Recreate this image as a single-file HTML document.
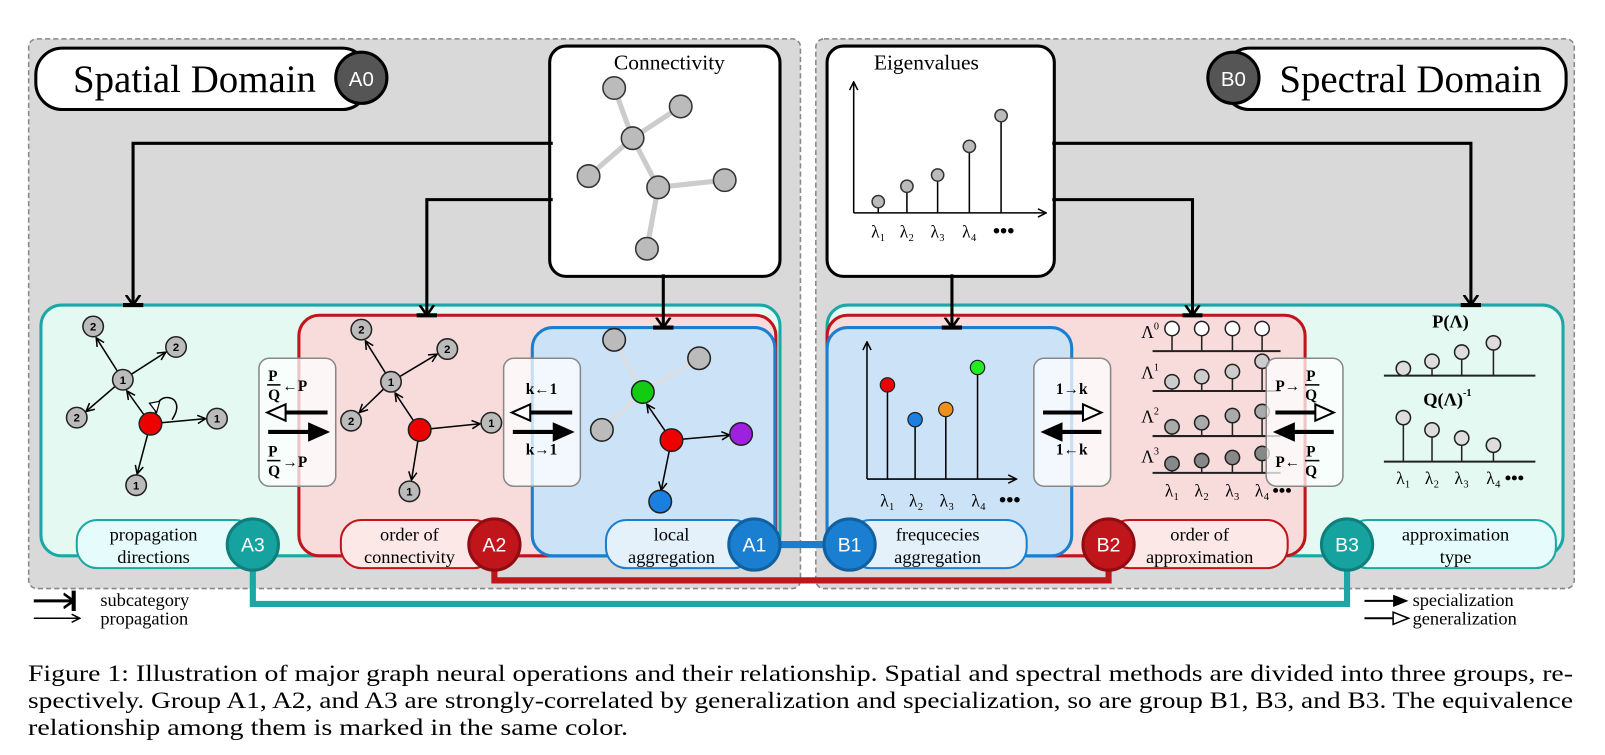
<!DOCTYPE html>
<html><head><meta charset="utf-8"><style>
html,body{margin:0;padding:0;background:#fff;}
svg{display:block;}
</style></head><body>
<svg width="1605" height="755" viewBox="0 0 1605 755" xmlns="http://www.w3.org/2000/svg" font-family="Liberation Serif, serif">
<defs>
<marker id="ah" markerWidth="10" markerHeight="10" refX="9" refY="5" orient="auto" markerUnits="userSpaceOnUse"><polyline points="1,1 9,5 1,9" fill="none" stroke="#000" stroke-width="1.5"/></marker>
<marker id="tb" markerWidth="20" markerHeight="20" refX="10" refY="10" orient="auto" markerUnits="userSpaceOnUse"><polyline points="0,3 10,10 0,17" fill="none" stroke="#000" stroke-width="2.5"/><line x1="10" y1="0" x2="10" y2="20" stroke="#000" stroke-width="4"/></marker>
</defs>
<g transform="scale(1.0236)">
<rect x="28" y="38" width="754" height="537" rx="8" fill="#d9d9d9" stroke="#888" stroke-dasharray="5,3" stroke-width="1.5"/>
<rect x="797" y="38" width="741" height="537" rx="8" fill="#d9d9d9" stroke="#888" stroke-dasharray="5,3" stroke-width="1.5"/>
<rect x="35" y="47" width="325" height="60" rx="26" fill="#fff" stroke="#000" stroke-width="3"/>
<text x="190" y="90" font-size="38" text-anchor="middle">Spatial Domain</text>
<circle cx="353" cy="76" r="25" fill="#555" stroke="#000" stroke-width="3"/>
<text x="353" y="84" font-size="20" fill="#fff" text-anchor="middle" font-family="Liberation Sans, sans-serif">A0</text>
<rect x="1195" y="47" width="335" height="60" rx="26" fill="#fff" stroke="#000" stroke-width="3"/>
<text x="1378" y="90" font-size="38" text-anchor="middle">Spectral Domain</text>
<circle cx="1205" cy="76" r="25" fill="#555" stroke="#000" stroke-width="3"/>
<text x="1205" y="84" font-size="20" fill="#fff" text-anchor="middle" font-family="Liberation Sans, sans-serif">B0</text>

<rect x="537" y="45" width="225" height="225" rx="16" fill="#fff" stroke="#000" stroke-width="3"/>
<text x="654" y="68" font-size="21" text-anchor="middle">Connectivity</text>
<g stroke="#ccc" stroke-width="5">
<line x1="618" y1="135" x2="600" y2="86"/><line x1="618" y1="135" x2="665" y2="104"/><line x1="618" y1="135" x2="575" y2="172"/><line x1="618" y1="135" x2="643" y2="183"/><line x1="643" y1="183" x2="708" y2="176"/><line x1="643" y1="183" x2="632" y2="243"/>
</g>
<g fill="#bbb" stroke="#333" stroke-width="1.5">
<circle cx="600" cy="86" r="11"/><circle cx="665" cy="104" r="11"/><circle cx="618" cy="135" r="11"/><circle cx="575" cy="172" r="11"/><circle cx="643" cy="183" r="11"/><circle cx="708" cy="176" r="11"/><circle cx="632" cy="243" r="11"/>
</g>

<rect x="808" y="45" width="222" height="225" rx="16" fill="#fff" stroke="#000" stroke-width="3"/>
<text x="905" y="68" font-size="21" text-anchor="middle">Eigenvalues</text>
<g stroke="#000" stroke-width="1.5" fill="none">
<polyline points="834,208 834,80" marker-end="url(#ah)"/><polyline points="834,208 1022,208" marker-end="url(#ah)"/>
<line x1="858" y1="208" x2="858" y2="197"/><line x1="886" y1="208" x2="886" y2="182"/><line x1="916" y1="208" x2="916" y2="171"/><line x1="947" y1="208" x2="947" y2="143"/><line x1="978" y1="208" x2="978" y2="113"/>
</g>
<g fill="#bbb" stroke="#333" stroke-width="1.5"><circle cx="858" cy="197" r="6"/><circle cx="886" cy="182" r="6"/><circle cx="916" cy="171" r="6"/><circle cx="947" cy="143" r="6"/><circle cx="978" cy="113" r="6"/></g>
<text y="232" font-size="17"><tspan x="851">λ₁</tspan><tspan x="879">λ₂</tspan><tspan x="909">λ₃</tspan><tspan x="940">λ₄</tspan><tspan x="970" font-size="20" font-weight="bold">•••</tspan></text>

<polyline points="247,545 247,590 1316,590 1316,545" fill="none" stroke="#1aa7a6" stroke-width="6"/>
<polyline points="483,545 483,567 1083,567 1083,545" fill="none" stroke="#c0151b" stroke-width="6"/>
<line x1="750" y1="532" x2="820" y2="532" stroke="#1a7fd0" stroke-width="7"/>

<rect x="40" y="298" width="722" height="245" rx="20" fill="#e3f9f1" stroke="#1aa7a6" stroke-width="3"/>
<rect x="292" y="308" width="466" height="235" rx="20" fill="#f8dcdc" stroke="#c0151b" stroke-width="3"/>
<rect x="520" y="320" width="237" height="223" rx="20" fill="#cce3f7" stroke="#1a7fd0" stroke-width="3"/>
<rect x="808" y="298" width="719" height="245" rx="20" fill="#e3f9f1" stroke="#1aa7a6" stroke-width="3"/>
<rect x="808" y="308" width="467" height="235" rx="20" fill="#f8dcdc" stroke="#c0151b" stroke-width="3"/>
<rect x="808" y="320" width="239" height="223" rx="20" fill="#cce3f7" stroke="#1a7fd0" stroke-width="3"/>

<g fill="none" stroke="#000" stroke-width="3">
<polyline points="540,140 130,140 130,298" marker-end="url(#tb)"/>
<polyline points="540,195 417,195 417,308" marker-end="url(#tb)"/>
<polyline points="648,268 648,320" marker-end="url(#tb)"/>
<polyline points="930,268 930,320" marker-end="url(#tb)"/>
<polyline points="1028,195 1165,195 1165,308" marker-end="url(#tb)"/>
<polyline points="1028,140 1437,140 1437,298" marker-end="url(#tb)"/>
</g>

<g stroke="#000" stroke-width="1.5" fill="none" marker-end="url(#ah)">
<line x1="120" y1="371" x2="94" y2="330"/><line x1="120" y1="371" x2="162" y2="344"/><line x1="120" y1="371" x2="84" y2="402"/>
<line x1="147" y1="414" x2="124" y2="382"/><line x1="147" y1="414" x2="201" y2="409"/><line x1="147" y1="414" x2="134" y2="463"/>
</g>
<path d="M152,404 C150,380 185,385 168,410" fill="none" stroke="#000" stroke-width="1.5"/>
<polygon points="146,394 153,403 156,392" fill="#fff" stroke="#000" stroke-width="1.2"/>
<g stroke="#222" stroke-width="1.5" fill="#bbb">
<circle cx="91" cy="319" r="10"/><circle cx="172" cy="339" r="10"/><circle cx="120" cy="371" r="10"/><circle cx="75" cy="408" r="10"/><circle cx="212" cy="409" r="10"/><circle cx="133" cy="474" r="10"/>
<circle cx="147" cy="414" r="11" fill="#e00"/>
</g>
<g font-family="Liberation Sans, sans-serif" font-size="11" font-weight="bold" text-anchor="middle">
<text x="91" y="323">2</text><text x="172" y="343">2</text><text x="120" y="375">1</text><text x="75" y="412">2</text><text x="212" y="413">1</text><text x="133" y="478">1</text>
</g>
<g stroke="#000" stroke-width="1.5" fill="none" marker-end="url(#ah)">
<line x1="382" y1="373" x2="357" y2="333"/><line x1="382" y1="373" x2="427" y2="346"/><line x1="382" y1="373" x2="351" y2="403"/>
<line x1="410" y1="420" x2="386" y2="384"/><line x1="410" y1="420" x2="469" y2="414"/><line x1="410" y1="420" x2="402" y2="469"/>
</g>
<g stroke="#222" stroke-width="1.5" fill="#bbb">
<circle cx="353" cy="322" r="10"/><circle cx="437" cy="341" r="10"/><circle cx="382" cy="373" r="10"/><circle cx="343" cy="411" r="10"/><circle cx="480" cy="413" r="10"/><circle cx="400" cy="480" r="10"/>
<circle cx="410" cy="420" r="11" fill="#e00"/>
</g>
<g font-family="Liberation Sans, sans-serif" font-size="11" font-weight="bold" text-anchor="middle">
<text x="353" y="326">2</text><text x="437" y="345">2</text><text x="382" y="377">1</text><text x="343" y="415">2</text><text x="480" y="417">1</text><text x="400" y="484">1</text>
</g>
<g stroke="#ddd" stroke-width="3"><line x1="628" y1="383" x2="600" y2="332"/><line x1="628" y1="383" x2="683" y2="350"/><line x1="628" y1="383" x2="588" y2="420"/></g>
<g stroke="#000" stroke-width="1.5" fill="none" marker-end="url(#ah)">
<line x1="656" y1="430" x2="632" y2="395"/><line x1="656" y1="430" x2="713" y2="425"/><line x1="656" y1="430" x2="646" y2="479"/>
</g>
<g stroke="#222" stroke-width="1.5">
<circle cx="600" cy="332" r="11" fill="#bbb"/><circle cx="683" cy="350" r="11" fill="#bbb"/><circle cx="588" cy="420" r="11" fill="#bbb"/>
<circle cx="628" cy="383" r="11" fill="#1c1"/><circle cx="656" cy="430" r="11" fill="#e00"/><circle cx="724" cy="424" r="11" fill="#a020e0"/><circle cx="645" cy="490" r="11" fill="#1a7fe0"/>
</g>

<g transform="translate(27,0)">
<g stroke="#222" stroke-width="1.5">
<line x1="1099" y1="343" x2="1224" y2="343" stroke-width="2"/><line x1="1099" y1="382" x2="1224" y2="382" stroke-width="2"/><line x1="1099" y1="426" x2="1224" y2="426" stroke-width="2"/><line x1="1099" y1="462" x2="1224" y2="462" stroke-width="2"/>
<line x1="1118" y1="343" x2="1118" y2="321"/><line x1="1147" y1="343" x2="1147" y2="321"/><line x1="1177" y1="343" x2="1177" y2="321"/><line x1="1206" y1="343" x2="1206" y2="321"/>
<line x1="1118" y1="382" x2="1118" y2="373"/><line x1="1147" y1="382" x2="1147" y2="368"/><line x1="1177" y1="382" x2="1177" y2="363"/><line x1="1206" y1="382" x2="1206" y2="353"/>
<line x1="1118" y1="426" x2="1118" y2="417"/><line x1="1147" y1="426" x2="1147" y2="413"/><line x1="1177" y1="426" x2="1177" y2="406"/><line x1="1206" y1="426" x2="1206" y2="402"/>
<line x1="1118" y1="462" x2="1118" y2="453"/><line x1="1147" y1="462" x2="1147" y2="450"/><line x1="1177" y1="462" x2="1177" y2="447"/><line x1="1206" y1="462" x2="1206" y2="443"/>
<g fill="#fff"><circle cx="1118" cy="321" r="7"/><circle cx="1147" cy="321" r="7"/><circle cx="1177" cy="321" r="7"/><circle cx="1206" cy="321" r="7"/></g>
<g fill="#ccc"><circle cx="1118" cy="373" r="7"/><circle cx="1147" cy="368" r="7"/><circle cx="1177" cy="363" r="7"/><circle cx="1206" cy="353" r="7"/></g>
<g fill="#aaa"><circle cx="1118" cy="417" r="7"/><circle cx="1147" cy="413" r="7"/><circle cx="1177" cy="406" r="7"/><circle cx="1206" cy="402" r="7"/></g>
<g fill="#888"><circle cx="1118" cy="453" r="7"/><circle cx="1147" cy="450" r="7"/><circle cx="1177" cy="447" r="7"/><circle cx="1206" cy="443" r="7"/></g>
</g>
<g font-size="17"><text x="1088" y="330">Λ<tspan font-size="10" dy="-8">0</tspan></text><text x="1088" y="370">Λ<tspan font-size="10" dy="-8">1</tspan></text><text x="1088" y="413">Λ<tspan font-size="10" dy="-8">2</tspan></text><text x="1088" y="452">Λ<tspan font-size="10" dy="-8">3</tspan></text></g>
<text y="485" font-size="17"><tspan x="1111">λ₁</tspan><tspan x="1140">λ₂</tspan><tspan x="1170">λ₃</tspan><tspan x="1199">λ₄</tspan><tspan x="1216" font-size="18" font-weight="bold">•••</tspan></text>
</g>

<g fill="#fff" fill-opacity="0.75" stroke="#888" stroke-width="1.5">
<rect x="253" y="350" width="75" height="125" rx="10"/><rect x="492" y="350" width="75" height="125" rx="10"/>
<rect x="1010" y="350" width="75" height="125" rx="10"/><rect x="1237" y="350" width="75" height="125" rx="10"/>
</g>
<g font-weight="bold" font-size="15">
<text x="262" y="372">P</text><line x1="261" y1="376" x2="274" y2="376" stroke="#000" stroke-width="1.5"/><text x="262" y="391">Q</text><text x="276" y="382">←P</text>
<text x="262" y="446">P</text><line x1="261" y1="450" x2="274" y2="450" stroke="#000" stroke-width="1.5"/><text x="262" y="465">Q</text><text x="276" y="456">→P</text>
<text x="529" y="385" text-anchor="middle">k←1</text><text x="529" y="444" text-anchor="middle">k→1</text>
<text x="1047" y="385" text-anchor="middle">1→k</text><text x="1047" y="444" text-anchor="middle">1←k</text>
<text x="1246" y="382">P→</text><text x="1276" y="372">P</text><line x1="1275" y1="376" x2="1289" y2="376" stroke="#000" stroke-width="1.5"/><text x="1275" y="391">Q</text>
<text x="1246" y="456">P←</text><text x="1276" y="446">P</text><line x1="1275" y1="450" x2="1289" y2="450" stroke="#000" stroke-width="1.5"/><text x="1275" y="465">Q</text>
</g>
<g stroke="#000" stroke-width="4" fill="#fff">
<line x1="320" y1="403" x2="278" y2="403"/><polygon points="261,403 279,395 279,411" stroke-width="2"/>
<line x1="262" y1="422" x2="305" y2="422"/><polygon points="320,422 302,414 302,430" fill="#000" stroke-width="2"/>
<line x1="559" y1="403" x2="517" y2="403"/><polygon points="500,403 518,395 518,411" stroke-width="2"/>
<line x1="501" y1="422" x2="544" y2="422"/><polygon points="559,422 541,414 541,430" fill="#000" stroke-width="2"/>
<line x1="1019" y1="403" x2="1060" y2="403"/><polygon points="1076,403 1058,395 1058,411" stroke-width="2"/>
<line x1="1076" y1="422" x2="1034" y2="422"/><polygon points="1019,422 1037,414 1037,430" fill="#000" stroke-width="2"/>
<line x1="1246" y1="403" x2="1287" y2="403"/><polygon points="1303,403 1285,395 1285,411" stroke-width="2"/>
<line x1="1303" y1="422" x2="1261" y2="422"/><polygon points="1246,422 1264,414 1264,430" fill="#000" stroke-width="2"/>
</g>

<g stroke="#000" stroke-width="1.5" fill="none">
<polyline points="847,468 847,334" marker-end="url(#ah)"/><polyline points="847,468 993,468" marker-end="url(#ah)"/>
<line x1="867" y1="468" x2="867" y2="376"/><line x1="894" y1="468" x2="894" y2="410"/><line x1="924" y1="468" x2="924" y2="400"/><line x1="955" y1="468" x2="955" y2="359"/>
</g>
<g stroke="#222" stroke-width="1.2"><circle cx="867" cy="376" r="7" fill="#e00"/><circle cx="894" cy="410" r="7" fill="#1a7fe0"/><circle cx="924" cy="400" r="7" fill="#f0901a"/><circle cx="955" cy="359" r="7" fill="#2e2"/></g>
<text y="495" font-size="17"><tspan x="860">λ₁</tspan><tspan x="888">λ₂</tspan><tspan x="918">λ₃</tspan><tspan x="949">λ₄</tspan><tspan x="976" font-size="20" font-weight="bold">•••</tspan></text>

<text x="1417" y="320" font-size="18" font-weight="bold" text-anchor="middle">P(Λ)</text>
<text x="1414" y="396" font-size="18" font-weight="bold" text-anchor="middle">Q(Λ)<tspan font-size="10" dy="-9">-1</tspan></text>
<g stroke="#222" stroke-width="1.5">
<line x1="1352" y1="367" x2="1500" y2="367" stroke-width="2"/><line x1="1352" y1="451" x2="1500" y2="451" stroke-width="2"/>
<line x1="1399" y1="367" x2="1399" y2="353"/><line x1="1428" y1="367" x2="1428" y2="344"/><line x1="1459" y1="367" x2="1459" y2="335"/>
<line x1="1371" y1="451" x2="1371" y2="408"/><line x1="1399" y1="451" x2="1399" y2="420"/><line x1="1428" y1="451" x2="1428" y2="428"/><line x1="1459" y1="451" x2="1459" y2="435"/>
<g fill="#ddd"><circle cx="1371" cy="360" r="7"/><circle cx="1399" cy="353" r="7"/><circle cx="1428" cy="344" r="7"/><circle cx="1459" cy="335" r="7"/>
<circle cx="1371" cy="408" r="7"/><circle cx="1399" cy="420" r="7"/><circle cx="1428" cy="428" r="7"/><circle cx="1459" cy="435" r="7"/></g>
</g>
<text y="473" font-size="17"><tspan x="1364">λ₁</tspan><tspan x="1392">λ₂</tspan><tspan x="1421">λ₃</tspan><tspan x="1452">λ₄</tspan><tspan x="1470" font-size="18" font-weight="bold">•••</tspan></text>

<g stroke-width="2">
<rect x="75" y="508" width="175" height="47" rx="20" fill="#e6fbfb" stroke="#1aa7a6"/>
<rect x="333" y="508" width="150" height="47" rx="20" fill="#fde8e8" stroke="#c0151b"/>
<rect x="592" y="508" width="145" height="47" rx="20" fill="#e4f1fb" stroke="#1a7fd0"/>
<rect x="830" y="508" width="173" height="47" rx="20" fill="#e4f1fb" stroke="#1a7fd0"/>
<rect x="1083" y="508" width="175" height="47" rx="20" fill="#fde8e8" stroke="#c0151b"/>
<rect x="1316" y="508" width="204" height="47" rx="20" fill="#e6fbfb" stroke="#1aa7a6"/>
</g>
<g font-size="18" text-anchor="middle">
<text x="150" y="528">propagation</text><text x="150" y="550">directions</text>
<text x="400" y="528">order of</text><text x="400" y="550">connectivity</text>
<text x="656" y="528">local</text><text x="656" y="550">aggregation</text>
<text x="916" y="528">frequcecies</text><text x="916" y="550">aggregation</text>
<text x="1172" y="528">order of</text><text x="1172" y="550">approximation</text>
<text x="1422" y="528">approximation</text><text x="1422" y="550">type</text>
</g>
<g stroke-width="3" font-family="Liberation Sans, sans-serif" font-size="19" text-anchor="middle" fill="#fff">
<circle cx="247" cy="532" r="25" fill="#16a3a0" stroke="#0f7f7d"/>
<circle cx="483" cy="532" r="25" fill="#c0151b" stroke="#8f0d12"/>
<circle cx="737" cy="532" r="25" fill="#1a7fd0" stroke="#11609f"/>
<circle cx="830" cy="532" r="25" fill="#1a7fd0" stroke="#11609f"/>
<circle cx="1083" cy="532" r="25" fill="#c0151b" stroke="#8f0d12"/>
<circle cx="1316" cy="532" r="25" fill="#16a3a0" stroke="#0f7f7d"/>
<text x="247" y="539" stroke="none">A3</text><text x="483" y="539" stroke="none">A2</text><text x="737" y="539" stroke="none">A1</text>
<text x="830" y="539" stroke="none">B1</text><text x="1083" y="539" stroke="none">B2</text><text x="1316" y="539" stroke="none">B3</text>
</g>

<line x1="33" y1="587" x2="72" y2="587" stroke="#000" stroke-width="3" marker-end="url(#tb)"/>
<line x1="33" y1="604" x2="78" y2="604" stroke="#000" stroke-width="1.5" marker-end="url(#ah)"/>
<text x="98" y="592" font-size="18">subcategory</text><text x="98" y="610" font-size="18">propagation</text>
<line x1="1333" y1="587" x2="1362" y2="587" stroke="#000" stroke-width="2"/><polygon points="1376,587 1361,581 1361,593"/>
<line x1="1333" y1="604" x2="1362" y2="604" stroke="#000" stroke-width="2"/><polygon points="1376,604 1361,598 1361,610" fill="#fff" stroke="#000" stroke-width="1.5"/>
<text x="1380" y="592" font-size="18">specialization</text><text x="1380" y="610" font-size="18">generalization</text>
</g>
<g font-size="23">
<text x="28" y="681" textLength="1545" lengthAdjust="spacingAndGlyphs">Figure 1: Illustration of major graph neural operations and their relationship. Spatial and spectral methods are divided into three groups, re-</text>
<text x="28" y="708" textLength="1545" lengthAdjust="spacingAndGlyphs">spectively. Group A1, A2, and A3 are strongly-correlated by generalization and specialization, so are group B1, B3, and B3. The equivalence</text>
<text x="28" y="735" textLength="600" lengthAdjust="spacingAndGlyphs">relationship among them is marked in the same color.</text>
</g>
</svg>
</body></html>
